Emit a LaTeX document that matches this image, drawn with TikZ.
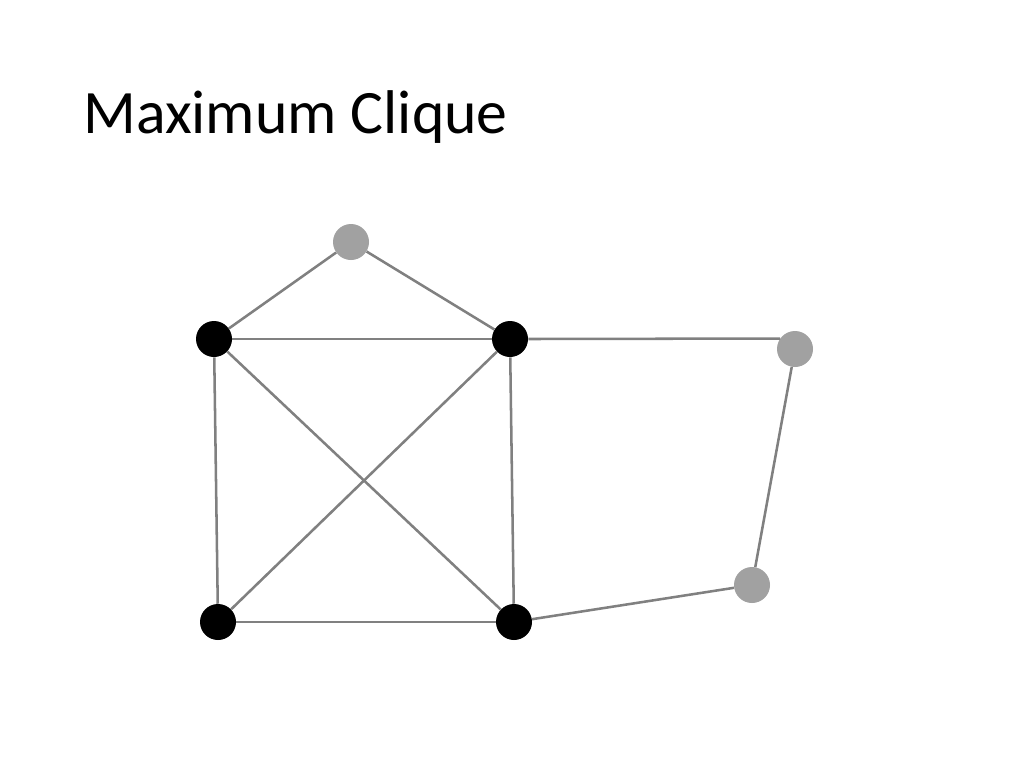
\documentclass[tikz,border=0pt]{standalone}
\usepackage{fontspec}
\setmainfont{Carlito}
\begin{document}
\begin{tikzpicture}[x=0.75pt,y=-0.75pt,
  vblack/.style={circle,fill=black,draw=none,minimum size=27pt,inner sep=0pt},
  vgray/.style={circle,fill=black!37,draw=none,minimum size=27pt,inner sep=0pt},
  edge/.style={draw=black!50,line width=1.9pt}]
\useasboundingbox[fill=white] (0,0) rectangle (1024,768);
\node[anchor=base west,inner sep=0pt,font=\fontsize{46.3}{54}\selectfont] (title) at (83,133) {Maximum Clique};
\node[vgray] (t) at (351,242) {};
\node[vblack] (a) at (214,339) {};
\node[vblack] (b) at (510,339) {};
\node[vgray] (r) at (795,349) {};
\node[vgray] (s) at (752,585) {};
\node[vblack] (c) at (218,622) {};
\node[vblack] (d) at (514,622) {};
\draw[edge] (t) -- (a);
\draw[edge] (t) -- (b);
\draw[edge] (a) -- (b);
\draw[edge] (a) -- (c);
\draw[edge] (a) -- (d);
\draw[edge] (b) -- (c);
\draw[edge] (b) -- (d);
\draw[edge] (c) -- (d);
\draw[edge] (b.east) -- (r.145);
\draw[edge] (r) -- (s);
\draw[edge] (s) -- (d);
\end{tikzpicture}
\end{document}
